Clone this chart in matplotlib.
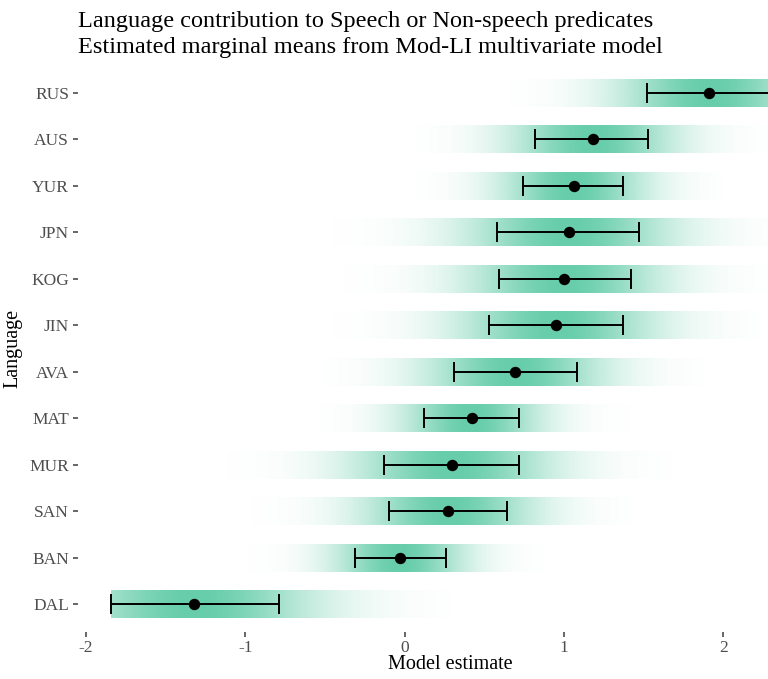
import numpy as np
import matplotlib
matplotlib.use("Agg")
import matplotlib.pyplot as plt
from matplotlib.colors import to_rgb

plt.rcParams['font.family'] = ['Liberation Serif', 'DejaVu Serif']

# values (top row first)
languages = ["RUS", "AUS", "YUR", "JPN", "KOG", "JIN", "AVA", "MAT", "MUR", "SAN", "BAN", "DAL"]
estimate = [1.91, 1.18, 1.06, 1.03, 1.00, 0.95, 0.69, 0.42, 0.30, 0.27, -0.03, -1.32]
lower = [1.52, 0.82, 0.74, 0.58, 0.59, 0.53, 0.31, 0.12, -0.13, -0.10, -0.31, -1.84]
upper = [2.31, 1.53, 1.37, 1.47, 1.42, 1.37, 1.08, 0.72, 0.72, 0.64, 0.26, -0.79]
# extent of the gradient slab
band_lo = [0.66, 0.08, 0.08, -0.56, -0.53, -0.56, -0.51, -0.53, -1.20, -1.04, -1.07, -1.84]
band_hi = [2.60, 2.35, 2.00, 2.50, 2.40, 2.22, 1.87, 1.42, 1.67, 1.42, 0.88, 0.29]

title_lines = ["Language contribution to Speech or Non-speech predicates",
               "Estimated marginal means from Mod-LI multivariate model"]

fill = to_rgb("#66CDAA")
grey = "#4D4D4D"

W, H = 768, 679
fig = plt.figure(figsize=(W / 100, H / 100), dpi=100)
ax = fig.add_axes([78 / W, 1 - 632 / H, 690 / W, 567 / H])

n = len(languages)
ypos = np.arange(n)[::-1]

for i in range(n):
    y = ypos[i]
    sd = (upper[i] - lower[i]) / 2
    xs = np.linspace(band_lo[i], band_hi[i], 400)
    alpha = np.exp(-0.5 * ((xs - estimate[i]) / sd) ** 2)
    img = np.zeros((1, len(xs), 4))
    img[0, :, :3] = fill
    img[0, :, 3] = alpha
    ax.imshow(img, extent=[band_lo[i], band_hi[i], y - 0.3, y + 0.3],
              aspect='auto', interpolation='bilinear', zorder=1)

err = [np.array(estimate) - np.array(lower), np.array(upper) - np.array(estimate)]
ax.errorbar(estimate, ypos, xerr=err, fmt='o', color='black', ms=7.2,
            elinewidth=1.4, capsize=7.5, capthick=1.4, zorder=3)

ax.set_xlim(-2.05, 2.28)
ax.set_ylim(-0.6, n - 0.4)
ax.set_yticks(ypos)
ax.set_yticklabels(languages)
ax.set_xticks([-2, -1, 0, 1, 2])
ax.set_xticklabels(["-2", "-1", "0", "1", "2"])
for s in ax.spines.values():
    s.set_visible(False)
ax.tick_params(axis='both', colors=grey, labelsize=12.5, length=3.5, width=1.2)
ax.tick_params(axis='y', pad=3)
ax.tick_params(axis='x', pad=2)

# the original panel runs past the right edge, so the x title sits right of centre
ax.set_xlabel("Model estimate", fontsize=14.5)
ax.xaxis.set_label_coords((450 - 78) / 690, -(655 - 632) / 567)
ax.set_ylabel("Language", fontsize=14.5, labelpad=5)

fig.text(78 / W, 1 - 27 / H, title_lines[0], fontsize=17.5, va='baseline', ha='left')
fig.text(78 / W, 1 - 53 / H, title_lines[1], fontsize=17.5, va='baseline', ha='left')

fig.savefig("out.png", dpi=100)
